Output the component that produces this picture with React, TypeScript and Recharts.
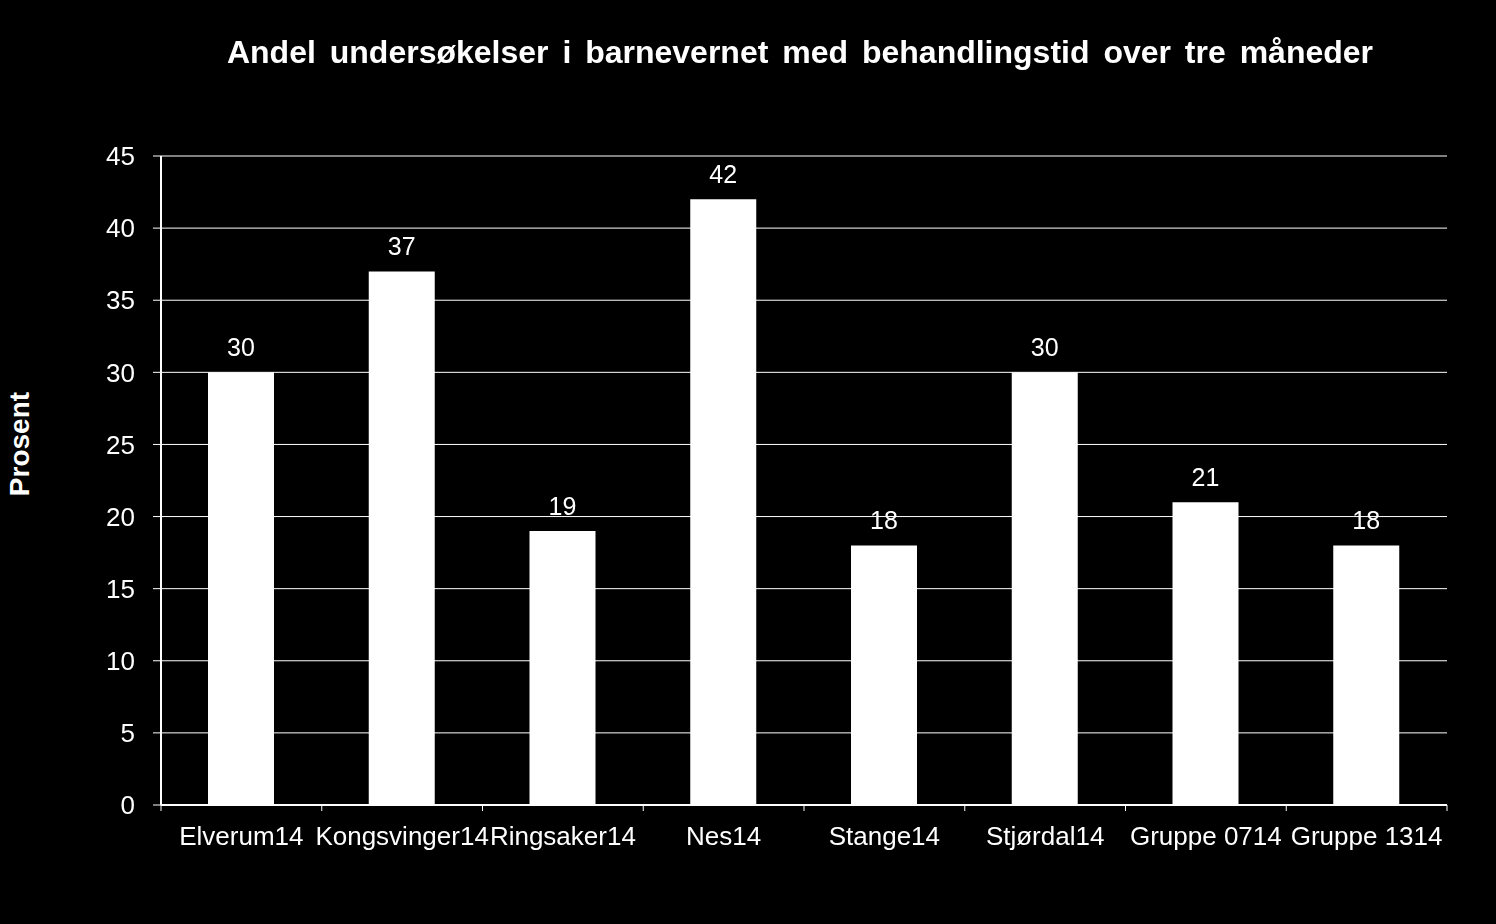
import { BarChart, Bar, XAxis, YAxis, CartesianGrid, LabelList } from 'recharts';

const categories = ['Elverum14', 'Kongsvinger14', 'Ringsaker14', 'Nes14', 'Stange14', 'Stjørdal14', 'Gruppe 0714', 'Gruppe 1314'];
const values = [30, 37, 19, 42, 18, 30, 21, 18];
const yTicks = [0, 5, 10, 15, 20, 25, 30, 35, 40, 45];

const data = categories.map((name, i) => ({ name, value: values[i] }));

const font = '"Liberation Sans", Arial, sans-serif';
const TICK_GAP = 22; // tickSize + tickMargin of the category axis
const EDGE_TICK = 6;

// category label plus Excel-style tick marks on the category boundaries
const CategoryTick = (props: any) => {
  const { x, y, payload, index, visibleTicksCount } = props;
  const half = payload.offset ?? 0;
  const axisY = y - TICK_GAP;
  const last = index === visibleTicksCount - 1;
  return (
    <g>
      <line x1={x - half} x2={x - half} y1={axisY} y2={axisY + EDGE_TICK} stroke="#fff" strokeWidth={1} />
      {last && <line x1={x + half} x2={x + half} y1={axisY} y2={axisY + EDGE_TICK} stroke="#fff" strokeWidth={1} />}
      <text x={x} y={y} dy="0.71em" textAnchor="middle" fill="#fff" fontSize={26} fontFamily={font}>
        {payload.value}
      </text>
    </g>
  );
};

export default function App() {
  return (
    <div style={{ position: 'fixed', left: 0, top: 0, width: 1496, height: 924, background: '#000', fontFamily: font }}>
      <div
        style={{
          position: 'absolute', left: 0, top: 34, width: 1600, textAlign: 'center',
          color: '#fff', fontWeight: 'bold', fontSize: 32, wordSpacing: 5,
        }}
      >
        Andel undersøkelser i barnevernet med behandlingstid over tre måneder
      </div>
      <div
        style={{
          position: 'absolute', left: 20, top: 444, transform: 'translate(-50%, -50%) rotate(-90deg)',
          color: '#fff', fontWeight: 'bold', fontSize: 28, whiteSpace: 'nowrap',
        }}
      >
        Prosent
      </div>
      <BarChart
        width={1496}
        height={924}
        data={data}
        margin={{ top: 156, right: 49, bottom: 59, left: 0 }}
        style={{ position: 'absolute', left: 0, top: 0 }}
      >
        <CartesianGrid vertical={false} stroke="#fff" strokeWidth={1} />
        <XAxis
          dataKey="name"
          interval={0}
          tickLine={false}
          tickSize={6}
          tickMargin={16}
          axisLine={{ stroke: '#fff', strokeWidth: 2 }}
          tick={CategoryTick}
          height={60}
        />
        <YAxis
          domain={[0, 45]}
          ticks={yTicks}
          interval={0}
          width={161}
          tickSize={8}
          tickMargin={18}
          tickLine={{ stroke: '#fff', strokeWidth: 1 }}
          axisLine={{ stroke: '#fff', strokeWidth: 2 }}
          tick={{ fill: '#fff', fontSize: 26, fontFamily: font }}
        />
        <YAxis
          yAxisId="r"
          orientation="right"
          width={0}
          tick={false}
          tickLine={false}
          axisLine={{ stroke: '#fff', strokeWidth: 1 }}
        />
        <Bar dataKey="value" fill="#fff" barSize={66} isAnimationActive={false}>
          <LabelList dataKey="value" position="top" offset={16} fill="#fff" fontSize={25} fontFamily={font} />
        </Bar>
      </BarChart>
    </div>
  );
}
